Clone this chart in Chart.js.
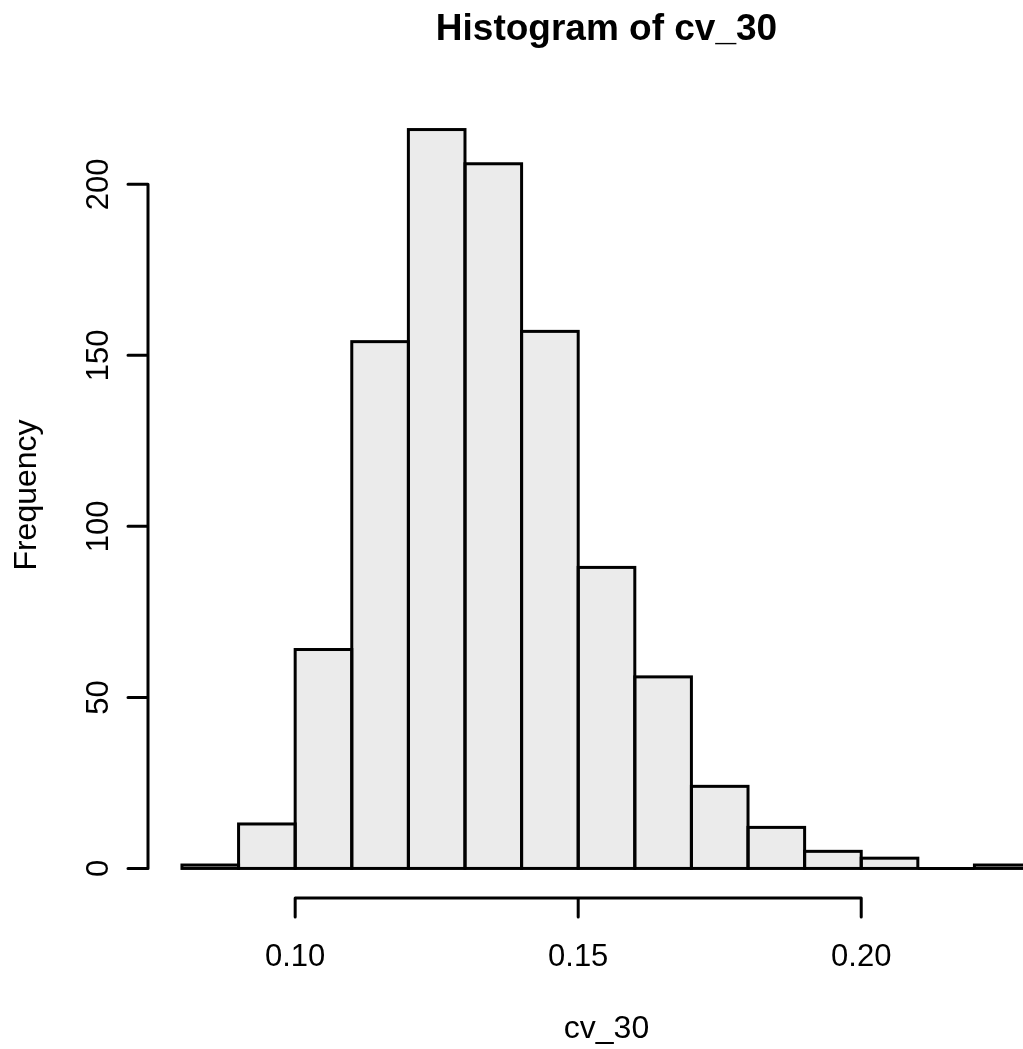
<!DOCTYPE html>
<html>
<head>
<meta charset="utf-8">
<script src="https://cdn.jsdelivr.net/npm/chart.js@4"></script>
<style>
  html, body { margin: 0; padding: 0; background: #fff; overflow: hidden; }
  #wrap { width: 1100px; height: 1049px; }
</style>
</head>
<body>
<div id="wrap"><canvas id="hist" width="1100" height="1049"></canvas></div>
<script>
// histogram breaks and counts
const breaks = [0.08, 0.09, 0.10, 0.11, 0.12, 0.13, 0.14, 0.15, 0.16, 0.17, 0.18, 0.19, 0.20, 0.21, 0.22, 0.23];
const counts = [1, 13, 64, 154, 216, 206, 157, 88, 56, 24, 12, 5, 3, 0, 1];

const yTicks = [0, 50, 100, 150, 200];
const xTicks = [0.10, 0.15, 0.20];
const xTickLabels = ['0.10', '0.15', '0.20'];

const mainTitle = 'Histogram of cv_30';
const xTitle = 'cv_30';
const yTitle = 'Frequency';

const fontFamily = '"Liberation Sans", Arial, sans-serif';

// bin centres for the bar elements
const binData = counts.map((c, i) => ({ x: (breaks[i] + breaks[i + 1]) / 2, y: c }));

// R draws the rectangle outlines once per edge, so do it here instead of bar borders
const outlinePlugin = {
    id: 'outlines',
    afterDatasetsDraw(chart) {
        const ctx = chart.ctx;
        const meta = chart.getDatasetMeta(0);
        ctx.save();
        ctx.strokeStyle = '#000';
        ctx.lineWidth = 3;
        meta.data.forEach(bar => {
            const left = bar.x - bar.width / 2;
            ctx.strokeRect(left, bar.y, bar.width, bar.base - bar.y);
        });
        ctx.restore();
    }
};

// R style axes: lines only over the tick range, rotated y labels
const axesPlugin = {
    id: 'rAxes',
    afterDraw(chart) {
        const ctx = chart.ctx;
        const area = chart.chartArea;
        const xs = chart.scales.x;
        const ys = chart.scales.y;
        ctx.save();
        ctx.strokeStyle = '#000';
        ctx.fillStyle = '#000';
        ctx.lineWidth = 3;
        ctx.lineCap = 'round';

        // y axis
        const yTop = ys.getPixelForValue(yTicks[yTicks.length - 1]);
        const yBot = ys.getPixelForValue(yTicks[0]);
        ctx.beginPath();
        ctx.moveTo(area.left, yTop);
        ctx.lineTo(area.left, yBot);
        yTicks.forEach(t => {
            const py = ys.getPixelForValue(t);
            ctx.moveTo(area.left, py);
            ctx.lineTo(area.left - 20, py);
        });
        ctx.stroke();

        ctx.font = '31px ' + fontFamily;
        ctx.textAlign = 'center';
        ctx.textBaseline = 'alphabetic';
        yTicks.forEach(t => {
            const py = ys.getPixelForValue(t);
            ctx.save();
            ctx.translate(area.left - 40, py);
            ctx.rotate(-Math.PI / 2);
            ctx.fillText(String(t), 0, 0);
            ctx.restore();
        });

        // x axis
        const axisY = area.bottom;
        ctx.beginPath();
        ctx.moveTo(xs.getPixelForValue(xTicks[0]), axisY);
        ctx.lineTo(xs.getPixelForValue(xTicks[xTicks.length - 1]), axisY);
        xTicks.forEach(t => {
            const px = xs.getPixelForValue(t);
            ctx.moveTo(px, axisY);
            ctx.lineTo(px, axisY + 19);
        });
        ctx.stroke();

        xTicks.forEach((t, i) => {
            ctx.fillText(xTickLabels[i], xs.getPixelForValue(t), axisY + 68);
        });

        // titles
        const midX = (area.left + area.right) / 2;
        const midY = (area.top + area.bottom) / 2;
        ctx.font = 'bold 37px ' + fontFamily;
        ctx.fillText(mainTitle, midX, 40);

        ctx.font = '32px ' + fontFamily;
        ctx.fillText(xTitle, midX, 1038);

        ctx.save();
        ctx.translate(36, midY - 4);
        ctx.rotate(-Math.PI / 2);
        ctx.fillText(yTitle, 0, 0);
        ctx.restore();

        ctx.restore();
    }
};

new Chart('hist', {
    type: 'bar',
    data: {
        datasets: [{
            data: binData,
            backgroundColor: '#ebebeb',
            borderWidth: 0,
            barPercentage: 1,
            categoryPercentage: 1
        }]
    },
    options: {
        responsive: false,
        animation: false,
        devicePixelRatio: 1,
        layout: { padding: { left: 148, right: 35, top: 100, bottom: 151 } },
        plugins: {
            legend: { display: false },
            title: { display: false },
            tooltip: { enabled: false }
        },
        scales: {
            x: { type: 'linear', min: 0.074, max: 0.236, offset: false, display: false },
            y: { min: -8.64, max: 224.64, display: false }
        }
    },
    plugins: [outlinePlugin, axesPlugin]
});
</script>
</body>
</html>
